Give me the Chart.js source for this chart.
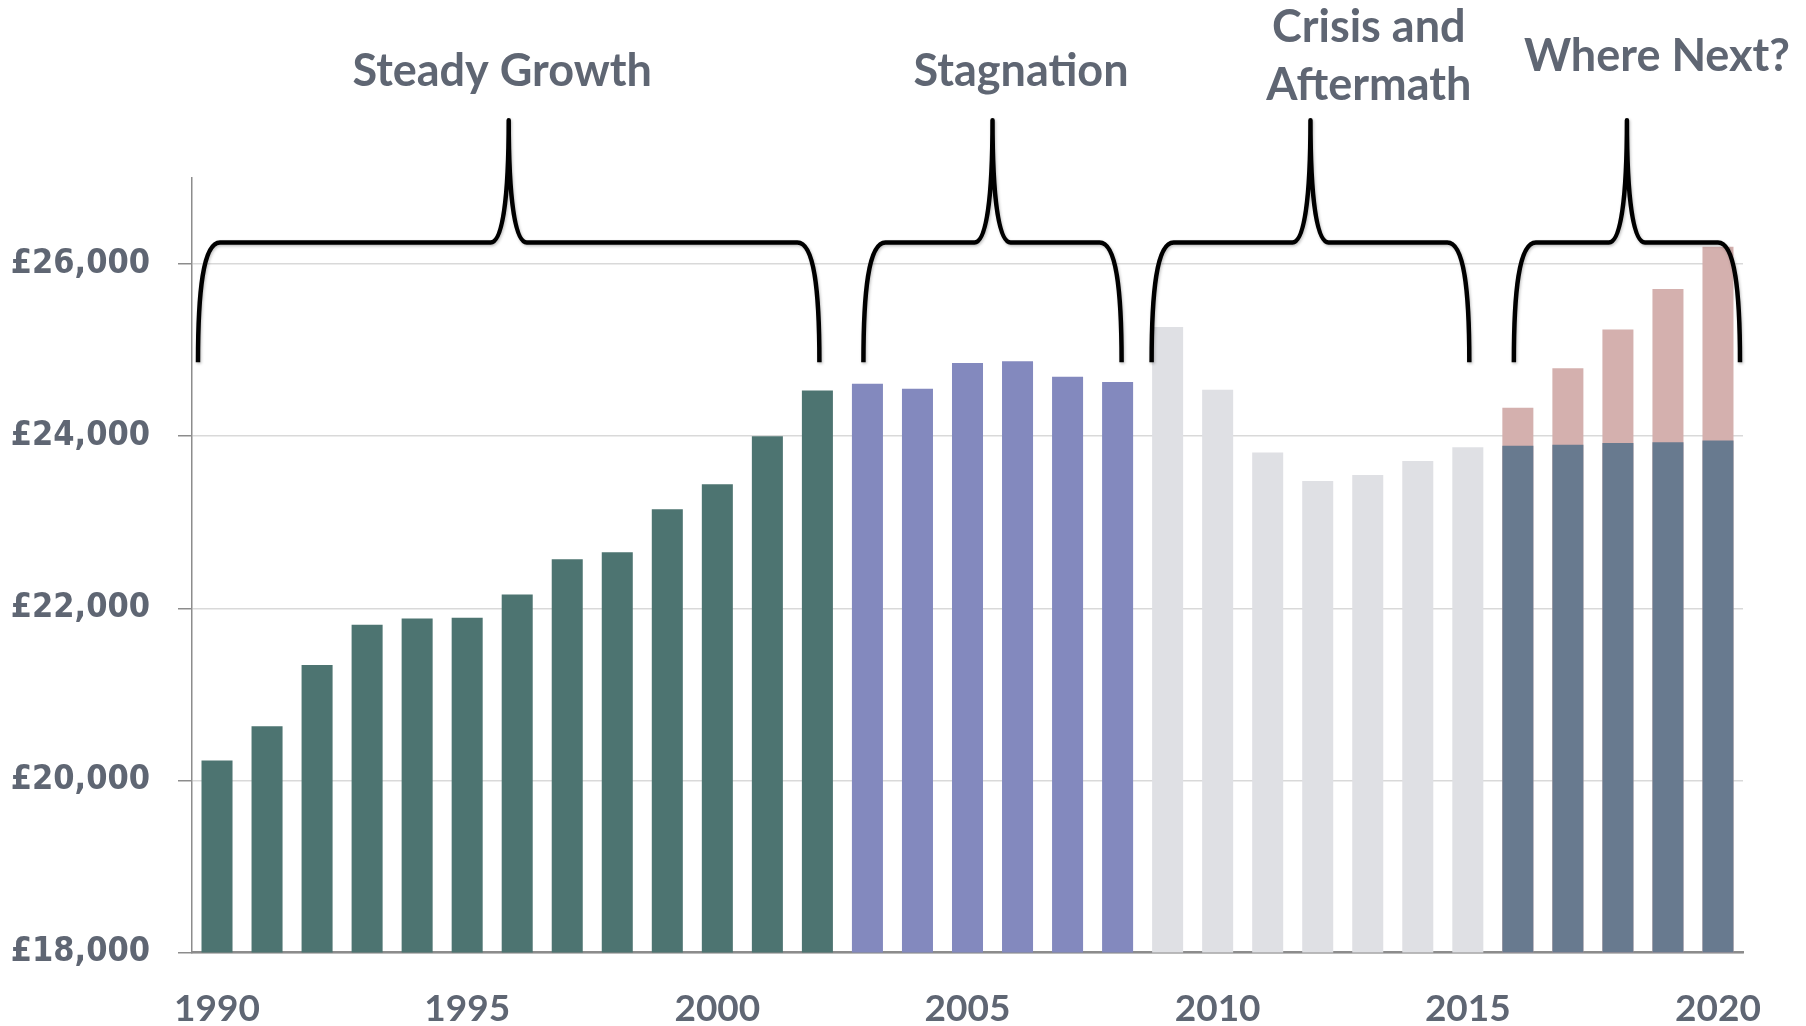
<!DOCTYPE html>
<html>
<head>
<meta charset="utf-8">
<script src="https://cdn.jsdelivr.net/npm/chart.js@4.4.1/dist/chart.umd.min.js"></script>
<style>
  body { margin: 0; background: #fff; }
  .wrap { width: 1806px; height: 1026px; position: relative; }
</style>
</head>
<body>
<div class="wrap"><canvas id="incomeChart"></canvas></div>
<script>
// Yıllar ve değerler
const years = ['1990', '1991', '1992', '1993', '1994', '1995', '1996', '1997', '1998', '1999', '2000',
  '2001', '2002', '2003', '2004', '2005', '2006', '2007', '2008', '2009', '2010',
  '2011', '2012', '2013', '2014', '2015', '2016', '2017', '2018', '2019', '2020'];

const steadyGrowth = [20230, 20630, 21340, 21810, 21880, 21890, 22160, 22570, 22650, 23150, 23440, 24000, 24530];
const stagnation = [24610, 24550, 24850, 24870, 24690, 24630];
const crisis = [25270, 24540, 23810, 23480, 23550, 23710, 23870];
const whereNextBase = [23890, 23900, 23920, 23930, 23950];
const whereNextForecast = [24330, 24790, 25240, 25710, 26200];

const yTicks = [18000, 20000, 22000, 24000, 26000];

const periodTitles = [['Steady Growth'], ['Stagnation'], ['Crisis and', 'Aftermath'], ['Where Next?']];

const textColor = '#5f6673';

// her seriyi kendi yıllarına yerleştir
function placeAt(startYear, values) {
  const start = years.indexOf(startYear);
  return years.map(function(y, i) {
    const k = i - start;
    return (k >= 0 && k < values.length) ? values[k] : null;
  });
}

// Süslü parantezler ve başlıklar
const bracketPlugin = {
  id: 'periodBrackets',
  afterDraw: function(chart, args, opts) {
    const ctx = chart.ctx;
    const x = chart.scales.x;
    const y = chart.scales.y;
    ctx.save();
    ctx.strokeStyle = '#000';
    ctx.lineWidth = 4.5;
    ctx.lineJoin = 'round';
    ctx.lineCap = 'butt';
    ctx.shadowColor = 'rgba(0,0,0,0.25)';
    ctx.shadowBlur = 3;
    ctx.shadowOffsetX = 1;
    ctx.shadowOffsetY = 1.5;
    opts.brackets.forEach(function(b) {
      const x0 = x.getPixelForValue(b.from);
      const x1 = x.getPixelForValue(b.to);
      const xm = (x0 + x1) / 2;
      const yEnd = y.getPixelForValue(opts.endValue);
      const yBar = y.getPixelForValue(opts.barValue);
      const yTip = y.getPixelForValue(opts.tipValue);
      ctx.beginPath();
      ctx.moveTo(x0, yEnd);
      ctx.bezierCurveTo(x0, yEnd - 70, x0 + 5, yBar, x0 + 22, yBar);
      ctx.lineTo(xm - 18, yBar);
      ctx.bezierCurveTo(xm - 6, yBar, xm, yBar - 45, xm, yTip);
      ctx.bezierCurveTo(xm, yBar - 45, xm + 6, yBar, xm + 18, yBar);
      ctx.lineTo(x1 - 22, yBar);
      ctx.bezierCurveTo(x1 - 5, yBar, x1, yEnd - 70, x1, yEnd);
      ctx.stroke();
    });
    ctx.restore();

    ctx.save();
    ctx.fillStyle = textColor;
    ctx.font = 'bold 45px Lato';
    ctx.textAlign = 'center';
    ctx.textBaseline = 'middle';
    opts.titles.forEach(function(t, i) {
      const cx = x.getPixelForValue(t.x);
      periodTitles[i].forEach(function(line, j) {
        ctx.fillText(line, cx, t.y + j * 58);
      });
    });
    ctx.restore();
  }
};

document.addEventListener('DOMContentLoaded', function() {
  const ctx = document.getElementById('incomeChart').getContext('2d');
  new Chart(ctx, {
    type: 'bar',
    data: {
      labels: years,
      datasets: [{
        label: 'Steady Growth',
        data: placeAt('1990', steadyGrowth),
        backgroundColor: '#4d7471'
      }, {
        label: 'Stagnation',
        data: placeAt('2003', stagnation),
        backgroundColor: '#8389be'
      }, {
        label: 'Crisis and Aftermath',
        data: placeAt('2009', crisis),
        backgroundColor: '#dfe0e4'
      }, {
        label: 'Where Next?',
        data: placeAt('2016', whereNextBase),
        backgroundColor: '#687a8f'
      }, {
        label: 'Forecast',
        data: placeAt('2016', whereNextForecast),
        backgroundColor: '#d4b0ae'
      }]
    },
    options: {
      responsive: true,
      maintainAspectRatio: false,
      animation: false,
      barPercentage: 0.62,
      categoryPercentage: 1,
      layout: {
        padding: { top: 178, right: 63, left: 0, bottom: 0 }
      },
      scales: {
        x: {
          stacked: true,
          z: 1,
          grid: { display: false, drawTicks: false },
          border: { display: true, color: '#8c8c8c', width: 2.5 },
          ticks: {
            autoSkip: false,
            maxRotation: 0,
            padding: 34,
            color: textColor,
            font: { family: 'Lato', weight: 'bold', size: 37 },
            callback: function(value, index) {
              const y = years[index];
              return (Number(y) % 5 === 0) ? y : '';
            }
          },
          afterFit: function(scale) { scale.height = 73.5; }
        },
        y: {
          stacked: false,
          min: 18000,
          max: 27000,
          afterBuildTicks: function(scale) {
            scale.ticks = yTicks.map(function(v) { return { value: v }; });
          },
          grid: { color: '#d9d9d9', lineWidth: 1.5, tickLength: 14, tickColor: '#8c8c8c' },
          border: { display: true, color: '#8c8c8c', width: 1.5 },
          ticks: {
            padding: 28,
            color: textColor,
            font: { family: 'DejaVu Sans Condensed', weight: 'bold', size: 34 },
            callback: function(value) {
              return '£' + value.toLocaleString('en-GB');
            }
          },
          afterFit: function(scale) { scale.width = 192; }
        }
      },
      plugins: {
        legend: { display: false },
        tooltip: { enabled: false },
        periodBrackets: {
          endValue: 24860,
          barValue: 26250,
          tipValue: 27670,
          brackets: [
            { from: -0.38, to: 12.04 },
            { from: 12.92, to: 18.08 },
            { from: 18.68, to: 25.03 },
            { from: 25.92, to: 30.44 }
          ],
          titles: [
            { x: 5.7, y: 71 },
            { x: 16.07, y: 71 },
            { x: 23.02, y: 27 },
            { x: 28.78, y: 56 }
          ]
        }
      }
    },
    plugins: [bracketPlugin]
  });
});
</script>
</body>
</html>
